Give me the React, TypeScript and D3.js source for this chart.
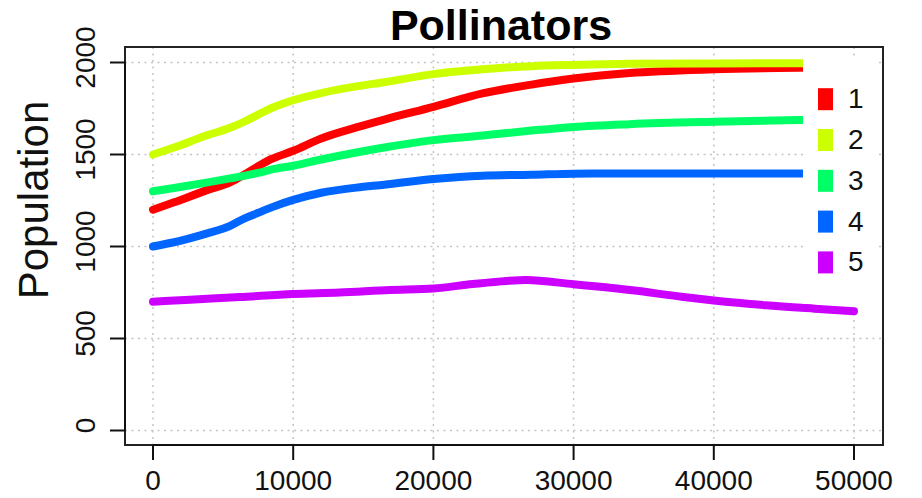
import React from "react";
import * as d3 from "d3";

// Simulation time steps shared by pollinator species 1-4
const steps = [0, 1500, 3800, 5500, 6500, 7500, 8500, 10000, 12000, 14500, 16500, 20000, 23500, 27000, 30000, 34000, 40000, 46000, 50000];
const species1 = [1200, 1240, 1305, 1348, 1390, 1436, 1477, 1520, 1587, 1647, 1690, 1759, 1832, 1880, 1913, 1943, 1963, 1972, 1975];
const species2 = [1500, 1538, 1603, 1645, 1678, 1717, 1754, 1795, 1834, 1870, 1893, 1937, 1963, 1980, 1987, 1993, 1995, 1996, 1996];
const species3 = [1300, 1318, 1347, 1370, 1384, 1400, 1419, 1439, 1473, 1511, 1538, 1578, 1603, 1630, 1650, 1665, 1678, 1687, 1690];
const species4 = [1000, 1023, 1070, 1112, 1152, 1183, 1214, 1253, 1292, 1320, 1336, 1367, 1385, 1390, 1396, 1397, 1397, 1397, 1397];

// Species 5 sampled on its own time steps
const steps5 = [0, 2650, 6200, 10000, 13300, 16900, 20000, 22800, 25200, 26600, 30000, 34200, 37700, 40000, 43700, 47200, 50000];
const species5 = [700, 711, 725, 742, 750, 764, 772, 796, 813, 818, 795, 762, 727, 707, 681, 662, 648];

const legendLabels = ["1", "2", "3", "4", "5"];
const colors = ["#FF0000", "#CCFF00", "#00FF66", "#0066FF", "#CC00FF"];
const xTicks = [0, 10000, 20000, 30000, 40000, 50000];
const yTicks = [0, 500, 1000, 1500, 2000];

const W = 922;
const H = 498;
const FONT = "'Liberation Sans', Arial, Helvetica, sans-serif";

const box = { left: 125, right: 883, top: 47, bottom: 445 };

export default function App() {
  const x = d3.scaleLinear().domain([0, 50000]).range([153, 854]);
  const y = d3.scaleLinear().domain([0, 2000]).range([430.5, 62.5]);

  const series = [
    { t: steps, v: species1 },
    { t: steps, v: species2 },
    { t: steps, v: species3 },
    { t: steps, v: species4 },
    { t: steps5, v: species5 },
  ];

  const line = d3
    .line<[number, number]>()
    .x((d) => x(d[0]))
    .y((d) => y(d[1]))
    .curve(d3.curveMonotoneX);

  const legend = { x: 803, y: 57, w: 72, h: 247, first: 99.2, gap: 40.8 };

  return (
    <svg
      width={W}
      height={H}
      style={{ position: "absolute", left: 0, top: 0, background: "#fff" }}
      fontFamily={FONT}
    >
      {/* dotted grid */}
      <g stroke="#c4c4c4" strokeWidth={1.5} strokeDasharray="2 4.5">
        {xTicks.map((t) => (
          <line key={"gx" + t} x1={x(t)} x2={x(t)} y1={box.top} y2={box.bottom} />
        ))}
        {yTicks.map((t) => (
          <line key={"gy" + t} x1={box.left} x2={box.right} y1={y(t)} y2={y(t)} />
        ))}
      </g>

      {/* population trajectories */}
      <g fill="none" strokeWidth={8} strokeLinejoin="round" strokeLinecap="round">
        {series.map((s, i) => (
          <path
            key={"s" + i}
            d={line(s.t.map((t, j) => [t, s.v[j]] as [number, number])) || ""}
            stroke={colors[i]}
          />
        ))}
      </g>

      {/* legend */}
      <rect x={legend.x} y={legend.y} width={legend.w} height={legend.h} fill="#fff" />
      {legendLabels.map((lab, i) => {
        const cy = legend.first + i * legend.gap;
        return (
          <g key={"lg" + lab}>
            <rect x={818} y={cy - 11} width={15} height={22} fill={colors[i]} />
            <text x={848} y={cy + 9} fontSize={28} fill="#111">
              {lab}
            </text>
          </g>
        );
      })}

      {/* plot frame */}
      <rect
        x={box.left}
        y={box.top}
        width={box.right - box.left}
        height={box.bottom - box.top}
        fill="none"
        stroke="#222"
        strokeWidth={2}
      />

      {/* x axis */}
      <g stroke="#111" strokeWidth={2}>
        <line x1={x(0)} x2={x(50000)} y1={box.bottom} y2={box.bottom} />
        {xTicks.map((t) => (
          <line key={"xt" + t} x1={x(t)} x2={x(t)} y1={box.bottom} y2={box.bottom + 15} />
        ))}
      </g>
      {xTicks.map((t) => (
        <text key={"xl" + t} x={x(t)} y={490} fontSize={28} textAnchor="middle" fill="#111">
          {t}
        </text>
      ))}

      {/* y axis */}
      <g stroke="#111" strokeWidth={2}>
        <line x1={box.left} x2={box.left} y1={y(0)} y2={y(2000)} />
        {yTicks.map((t) => (
          <line key={"yt" + t} x1={box.left - 15} x2={box.left} y1={y(t)} y2={y(t)} />
        ))}
      </g>
      {yTicks.map((t) => (
        <text
          key={"yl" + t}
          transform={`translate(95,${y(t) - 5}) rotate(-90)`}
          fontSize={28}
          textAnchor="middle"
          fill="#111"
        >
          {t}
        </text>
      ))}

      {/* titles */}
      <text x={501} y={40} fontSize={43} fontWeight="bold" textAnchor="middle" fill="#000">
        Pollinators
      </text>
      <text
        transform="translate(48,200) rotate(-90)"
        fontSize={42}
        textAnchor="middle"
        fill="#111"
      >
        Population
      </text>
    </svg>
  );
}
